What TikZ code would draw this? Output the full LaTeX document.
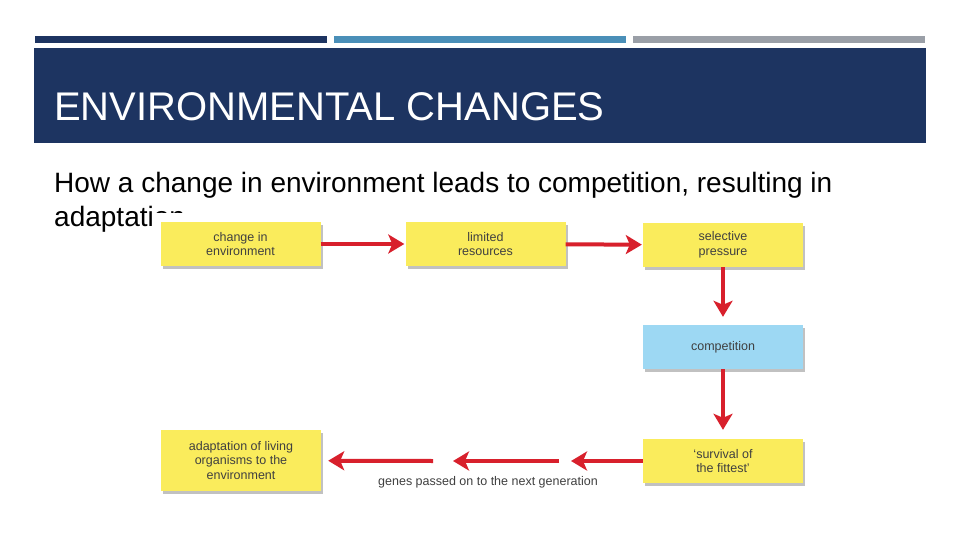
\documentclass[tikz,border=0pt]{standalone}
\usepackage{fontspec}
\setmainfont{Liberation Sans}
\usetikzlibrary{arrows.meta, positioning, shadows}

\definecolor{navy}{HTML}{1D3461}
\definecolor{steel}{HTML}{4A8FB8}
\definecolor{slate}{HTML}{9A9FA7}
\definecolor{note}{HTML}{FAEC5C}
\definecolor{sky}{HTML}{9DD8F3}
\definecolor{flow}{HTML}{D8202C}
\definecolor{ink}{HTML}{404040}

\begin{document}
\begin{tikzpicture}[x=1pt,y=1pt,
  card/.style={fill=note, minimum width=160pt, minimum height=44pt, align=center,
    inner sep=2pt, font=\fontsize{12.5}{14.5}\selectfont, text=ink,
    drop shadow={shadow xshift=2pt, shadow yshift=-3pt, opacity=.4, fill=black!60}},
  flowarrow/.style={draw=flow, line width=4pt, -{Stealth[length=16pt,width=19pt,inset=4pt]}}]
\useasboundingbox (0,0) rectangle (960,-540);
% header bars
\foreach \x/\c in {35/navy,334/steel,633/slate}
  \fill[\c] (\x,-36) rectangle ++(292,-7);
\fill[navy] (34,-48) rectangle (926,-143);
\node[anchor=base west, inner sep=0, text=white, font=\fontsize{40}{44}\selectfont] (title) at (54,-121) {ENVIRONMENTAL CHANGES};
\node[anchor=base west, inner sep=0, align=left, font=\fontsize{28}{34}\selectfont] (sub) at (54,-226)
  {How a change in environment leads to competition, resulting in\\adaptation};
% picture background
\fill[white] (152,-212.5) rectangle (812,-500);
% boxes
\node[card] (change) at (240.5,-244) {change in\\environment};
\node[card] (limited) at (485.5,-244) {limited\\resources};
\node[card] (selective) at (723,-245) {selective\\pressure};
\node[card, fill=sky] (competition) at (723,-347) {competition};
\node[card] (survival) at (723,-461) {`survival of\\the fittest'};
\node[card, minimum height=61pt] (adaptation) at (241,-460.5) {adaptation of living\\organisms to the\\environment};
\node[text=ink, font=\fontsize{12.5}{14}\selectfont, inner sep=0] (genes) at (488,-482) {genes passed on to the next generation};
% arrows
\coordinate (a1) at (571,-461);
\coordinate (a2) at (559,-461);
\coordinate (a3) at (453,-461);
\coordinate (a4) at (433,-461);
\draw[flowarrow, shorten >=1pt] (change) -- (limited);
\draw[flowarrow, shorten >=1pt] (limited) -- (selective);
\draw[flowarrow, shorten >=8pt] (selective) -- (competition);
\draw[flowarrow, shorten >=9pt] (competition) -- (survival);
\draw[flowarrow] (survival) -- (a1);
\draw[flowarrow] (a2) -- (a3);
\draw[flowarrow, shorten >=7pt] (a4) -- (adaptation);
\end{tikzpicture}
\end{document}
